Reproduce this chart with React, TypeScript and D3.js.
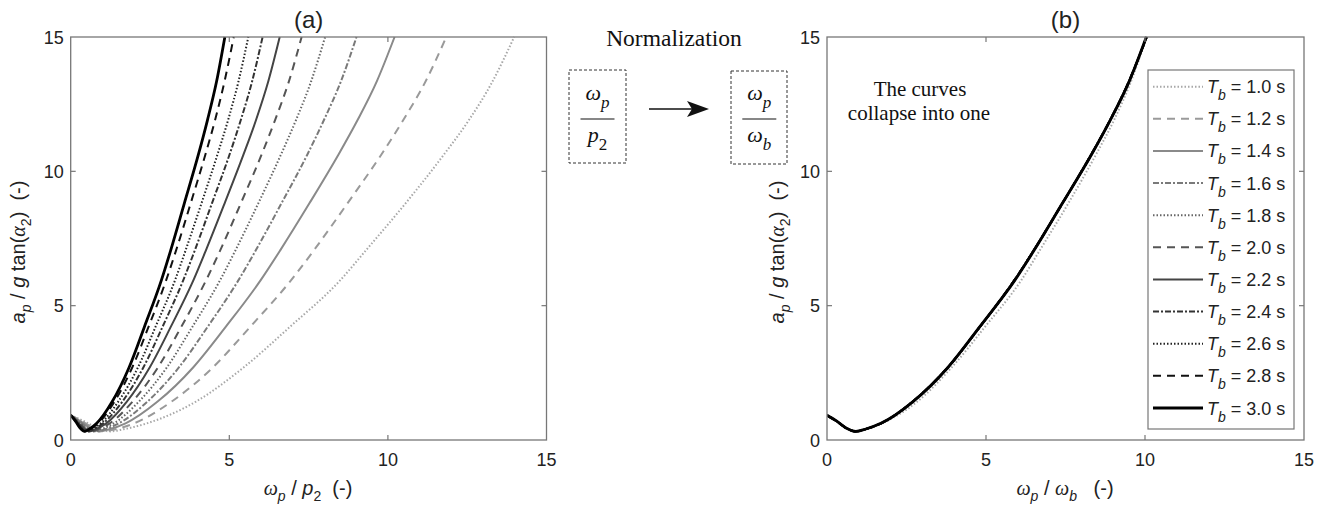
import React from 'react';
import * as d3 from 'd3';

// ---------- data ----------
const periodLabels = ['1.0', '1.2', '1.4', '1.6', '1.8', '2.0', '2.2', '2.4', '2.6', '2.8', '3.0'];

// shared a_p / g tan(alpha2) levels at which the curves were read
const yLevels = [0.92, 0.7, 0.45, 0.32, 0.4, 0.62, 1.43, 2.7, 4.2, 5.95, 7.05, 8.8, 10.6, 11.9, 13.35, 15];

// omega_p / p_2, one array per T_b
const xTb10 = [0, 0.42, 0.83, 1.25, 1.67, 2.4, 3.95, 5.45, 6.9, 8.5, 9.3, 10.55, 11.75, 12.55, 13.3, 13.98];
const xTb12 = [0, 0.35, 0.71, 1.06, 1.41, 2.0, 3.18, 4.48, 5.65, 6.95, 7.66, 8.72, 9.78, 10.48, 11.19, 11.84];
const xTb14 = [0, 0.3, 0.61, 0.91, 1.22, 1.73, 2.74, 3.86, 4.88, 5.99, 6.6, 7.52, 8.43, 9.04, 9.65, 10.21];
const xTb16 = [0, 0.27, 0.54, 0.81, 1.08, 1.52, 2.42, 3.41, 4.31, 5.29, 5.83, 6.64, 7.45, 7.98, 8.52, 9.01];
const xTb18 = [0, 0.24, 0.48, 0.72, 0.96, 1.36, 2.15, 3.03, 3.83, 4.71, 5.19, 5.91, 6.62, 7.1, 7.58, 8.02];
const xTb20 = [0, 0.22, 0.43, 0.65, 0.87, 1.23, 1.95, 2.75, 3.48, 4.27, 4.71, 5.36, 6.01, 6.44, 6.88, 7.28];
const xTb22 = [0, 0.2, 0.39, 0.59, 0.79, 1.12, 1.77, 2.49, 3.15, 3.87, 4.26, 4.85, 5.44, 5.84, 6.23, 6.59];
const xTb24 = [0, 0.18, 0.36, 0.54, 0.72, 1.02, 1.63, 2.29, 2.89, 3.55, 3.91, 4.45, 5.0, 5.36, 5.72, 6.05];
const xTb26 = [0, 0.17, 0.33, 0.5, 0.67, 0.95, 1.5, 2.12, 2.67, 3.29, 3.62, 4.12, 4.62, 4.96, 5.29, 5.6];
const xTb28 = [0, 0.15, 0.31, 0.46, 0.61, 0.87, 1.38, 1.94, 2.45, 3.01, 3.32, 3.78, 4.24, 4.55, 4.85, 5.14];
const xTb30 = [0, 0.15, 0.29, 0.44, 0.58, 0.82, 1.31, 1.84, 2.32, 2.86, 3.15, 3.58, 4.02, 4.31, 4.6, 4.86];
const seriesX = [xTb10, xTb12, xTb14, xTb16, xTb18, xTb20, xTb22, xTb24, xTb26, xTb28, xTb30];

// normalisation factor omega_b / p_2 for each T_b
const normFactor = [1.391, 1.178, 1.016, 0.897, 0.798, 0.724, 0.656, 0.602, 0.557, 0.511, 0.484];

const xTicks = [0, 5, 10, 15];
const yTicks = [0, 5, 10, 15];

// ---------- styles ----------
const strokeColors = ['#a8a8a8', '#9a9a9a', '#8a8a8a', '#7a7a7a', '#666666', '#555555', '#444444', '#333333', '#222222', '#111111', '#000000'];
const strokeDash = ['1.5,2', '8,6', '', '6,2,2,2', '1.5,2', '8,6', '', '6,2,2,2', '1.5,2', '8,6', ''];
const strokeW = [2, 2, 2, 2, 2, 2, 2, 2, 2, 2, 2.8];

const SANS = 'Liberation Sans, Arial, sans-serif';
const SERIF = 'Liberation Serif, Times New Roman, serif';
const AXIS = '#777';
const TXT = '#222';
const NB = '\u00A0';

type PanelProps = {
  left: number;
  right: number;
  id: string;
  title: string;
  normalized: boolean;
  xlabel: React.ReactNode;
  ylabelX: number;
};

function Panel({ left, right, id, title, normalized, xlabel, ylabelX }: PanelProps) {
  const top = 37;
  const bottom = 440;
  const x = d3.scaleLinear().domain([0, 15]).range([left, right]);
  const y = d3.scaleLinear().domain([0, 15]).range([bottom, top]);
  const line = d3
    .line<[number, number]>()
    .x((d) => x(d[0]))
    .y((d) => y(d[1]))
    .curve(d3.curveMonotoneX);

  return (
    <g>
      <defs>
        <clipPath id={id}>
          <rect x={left} y={top - 1} width={right - left} height={bottom - top + 1} />
        </clipPath>
      </defs>
      <g clipPath={`url(#${id})`}>
        {seriesX.map((xs, i) => {
          const pts: [number, number][] = xs.map((v, k) => [normalized ? v / normFactor[i] : v, yLevels[k]]);
          return (
            <path
              key={i}
              d={line(pts) || ''}
              fill="none"
              stroke={strokeColors[i]}
              strokeWidth={strokeW[i]}
              strokeDasharray={strokeDash[i] || undefined}
              strokeLinejoin="round"
            />
          );
        })}
      </g>
      <rect x={left} y={top} width={right - left} height={bottom - top} fill="none" stroke={AXIS} strokeWidth={1.3} />
      {xTicks.slice(1, -1).map((t) => (
        <g key={'xt' + t}>
          <line x1={x(t)} x2={x(t)} y1={bottom} y2={bottom - 5} stroke={AXIS} strokeWidth={1.2} />
          <line x1={x(t)} x2={x(t)} y1={top} y2={top + 5} stroke={AXIS} strokeWidth={1.2} />
        </g>
      ))}
      {yTicks.slice(1, -1).map((t) => (
        <g key={'yt' + t}>
          <line x1={left} x2={left + 5} y1={y(t)} y2={y(t)} stroke={AXIS} strokeWidth={1.2} />
          <line x1={right} x2={right - 5} y1={y(t)} y2={y(t)} stroke={AXIS} strokeWidth={1.2} />
        </g>
      ))}
      {xTicks.map((t) => (
        <text key={'xl' + t} x={x(t)} y={466} textAnchor="middle" fontFamily={SANS} fontSize={18} fill={TXT}>
          {t}
        </text>
      ))}
      {yTicks.map((t) => (
        <text key={'yl' + t} x={left - 7} y={y(t) + 6.5} textAnchor="end" fontFamily={SANS} fontSize={18} fill={TXT}>
          {t}
        </text>
      ))}
      <text x={(left + right) / 2} y={28} textAnchor="middle" fontFamily={SANS} fontSize={24} fill={TXT}>
        {title}
      </text>
      {xlabel}
      <text
        transform={`translate(${ylabelX},252) rotate(-90)`}
        textAnchor="middle"
        fontFamily={SANS}
        fontSize={20}
        fill={TXT}
      >
        <tspan fontStyle="italic">a</tspan>
        <tspan fontSize={14} dy={6} fontStyle="italic">p</tspan>
        <tspan dy={-6}>{`${NB}/${NB}`}</tspan>
        <tspan fontStyle="italic">g</tspan>
        <tspan>{`${NB}tan(`}</tspan>
        <tspan fontStyle="italic" fontFamily={SERIF}>α</tspan>
        <tspan fontSize={14} dy={6}>2</tspan>
        <tspan dy={-6}>{`)${NB}${NB}(-)`}</tspan>
      </text>
    </g>
  );
}

function Legend() {
  const lx = 1148;
  const ly = 70;
  const w = 146;
  const h = 359;
  const rowY = d3.scaleLinear().domain([0, periodLabels.length - 1]).range([86.7, 408]);
  return (
    <g>
      <rect x={lx} y={ly} width={w} height={h} fill="#fff" stroke={AXIS} strokeWidth={1.2} />
      {periodLabels.map((p, i) => (
        <g key={p}>
          <line
            x1={1153}
            x2={1203}
            y1={rowY(i)}
            y2={rowY(i)}
            stroke={strokeColors[i]}
            strokeWidth={strokeW[i]}
            strokeDasharray={strokeDash[i] || undefined}
          />
          <text x={1207} y={rowY(i) + 6.5} fontFamily={SANS} fontSize={18} fill={TXT}>
            <tspan fontStyle="italic">T</tspan>
            <tspan fontSize={14} dy={7} fontStyle="italic">b</tspan>
            <tspan dy={-7}>{`${NB}=${NB}${p}${NB}s`}</tspan>
          </text>
        </g>
      ))}
    </g>
  );
}

function Fraction({ cx, denom, denomSub }: { cx: number; denom: string; denomSub: string }) {
  return (
    <g fontFamily={SERIF} fill="#111">
      <text x={cx} y={100} textAnchor="middle" fontSize={22}>
        <tspan fontStyle="italic">ω</tspan>
        <tspan fontStyle="italic" fontSize={17} dy={8}>p</tspan>
      </text>
      <line x1={cx - 17} x2={cx + 17} y1={119} y2={119} stroke="#111" strokeWidth={1.2} />
      <text x={cx} y={142} textAnchor="middle" fontSize={22}>
        <tspan fontStyle="italic">{denom}</tspan>
        <tspan fontStyle={denomSub === 'b' ? 'italic' : 'normal'} fontSize={17} dy={8}>{denomSub}</tspan>
      </text>
    </g>
  );
}

export default function App() {
  const xlabelA = (
    <text x={308} y={495} textAnchor="middle" fontFamily={SANS} fontSize={20} fill={TXT}>
      <tspan fontStyle="italic" fontFamily={SERIF}>ω</tspan>
      <tspan fontSize={14} dy={6} fontStyle="italic">p</tspan>
      <tspan dy={-6}>{`${NB}/${NB}`}</tspan>
      <tspan fontStyle="italic">p</tspan>
      <tspan fontSize={14} dy={6}>2</tspan>
      <tspan dy={-6}>{`${NB}${NB}(-)`}</tspan>
    </text>
  );
  const xlabelB = (
    <text x={1065} y={495} textAnchor="middle" fontFamily={SANS} fontSize={20} fill={TXT}>
      <tspan fontStyle="italic" fontFamily={SERIF}>ω</tspan>
      <tspan fontSize={14} dy={6} fontStyle="italic">p</tspan>
      <tspan dy={-6}>{`${NB}/${NB}`}</tspan>
      <tspan fontStyle="italic" fontFamily={SERIF}>ω</tspan>
      <tspan fontSize={14} dy={6} fontStyle="italic">b</tspan>
      <tspan dy={-6}>{`${NB}${NB}${NB}(-)`}</tspan>
    </text>
  );
  return (
    <svg width={1326} height={511} style={{ position: 'absolute', left: 0, top: 0, background: '#fff' }}>
      <rect x={0} y={0} width={1326} height={511} fill="#fff" />
      <Panel left={70.7} right={546.5} id="clipA" title="(a)" normalized={false} xlabel={xlabelA} ylabelX={25} />
      <Panel left={827} right={1304} id="clipB" title="(b)" normalized={true} xlabel={xlabelB} ylabelX={784} />
      <Legend />
      <text x={674} y={46} textAnchor="middle" fontFamily={SERIF} fontSize={23.5} fill="#111">
        Normalization
      </text>
      <rect x={569} y={70} width={57} height={93} fill="none" stroke="#333" strokeWidth={1} strokeDasharray="3,2" />
      <rect x={731} y={71} width={56} height={93} fill="none" stroke="#333" strokeWidth={1} strokeDasharray="3,2" />
      <Fraction cx={597.5} denom="p" denomSub="2" />
      <Fraction cx={759.3} denom="ω" denomSub="b" />
      <line x1={649} x2={694} y1={109} y2={109} stroke="#111" strokeWidth={1.5} />
      <path d="M709,109 L687,101 L692,109 L687,117 Z" fill="#111" />
      <text x={920} y={96} textAnchor="middle" fontFamily={SERIF} fontSize={21} fill="#111">
        The curves
      </text>
      <text x={919} y={120} textAnchor="middle" fontFamily={SERIF} fontSize={21} fill="#111">
        collapse into one
      </text>
    </svg>
  );
}
